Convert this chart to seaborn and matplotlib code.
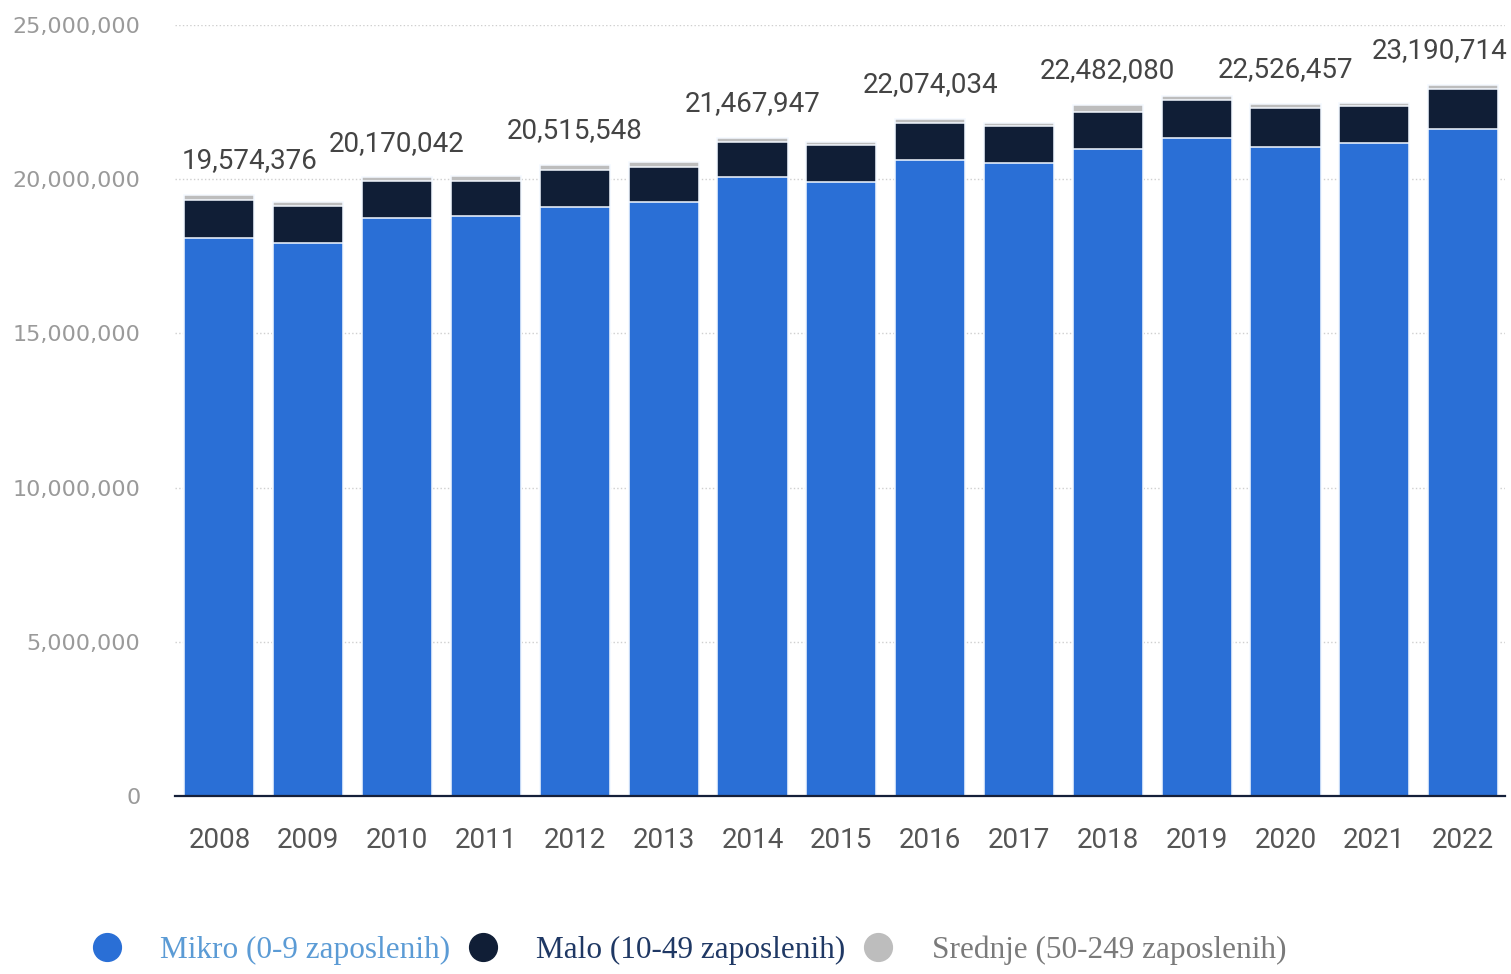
import matplotlib
matplotlib.use("Agg")
import matplotlib.pyplot as plt
from matplotlib.lines import Line2D
from matplotlib.ticker import FuncFormatter
import numpy as np
import pandas as pd
import seaborn as sns

years = ["2008", "2009", "2010", "2011", "2012", "2013", "2014", "2015",
         "2016", "2017", "2018", "2019", "2020", "2021", "2022"]
# millions
mikro = [18.09, 17.93, 18.74, 18.81, 19.10, 19.26, 20.07, 19.91,
         20.62, 20.53, 20.98, 21.34, 21.04, 21.17, 21.63]
malo = [1.24, 1.20, 1.20, 1.13, 1.20, 1.14, 1.14, 1.20,
        1.20, 1.19, 1.20, 1.23, 1.27, 1.20, 1.29]
srednje = [0.16, 0.13, 0.12, 0.18, 0.15, 0.15, 0.13, 0.11,
           0.13, 0.11, 0.22, 0.12, 0.12, 0.11, 0.15]
total_labels = {"2008": 19574376, "2010": 20170042, "2012": 20515548,
                "2014": 21467947, "2016": 22074034, "2018": 22482080,
                "2020": 22526457, "2022": 23190714}

df = pd.DataFrame({"year": years,
                   "mikro": np.array(mikro) * 1e6,
                   "malo": np.array(malo) * 1e6,
                   "srednje": np.array(srednje) * 1e6})
df["c_malo"] = df["mikro"] + df["malo"]
df["c_total"] = df["c_malo"] + df["srednje"]

c_mikro = "#2a6fd6"
c_malo = "#101e36"
c_srednje = "#bdbdbd"

sns.set_style("white")
plt.rcParams["font.family"] = ["DejaVu Sans"]

fig = plt.figure(figsize=(15.11, 9.74), dpi=100)
ax = fig.add_axes([0.1158, 0.1828, 0.8802, 0.7915])

for col, colr in [("c_total", c_srednje), ("c_malo", c_malo), ("mikro", c_mikro)]:
    sns.barplot(data=df, x="year", y=col, color=colr, width=0.79,
                edgecolor="#f4f9ff", linewidth=1.1, ax=ax, saturation=1)

ax.set_ylim(0, 25e6)
ax.set_xlim(-0.5, 14.47)
ax.set_xlabel("")
ax.set_ylabel("")
ax.set_yticks(np.arange(0, 25e6 + 1, 5e6))
ax.yaxis.set_major_formatter(FuncFormatter(lambda v, p: f"{int(v):,}"))
ax.grid(axis="y", linestyle=":", color="#cfcfcf", linewidth=1)
ax.set_axisbelow(True)
for s in ["top", "right", "left"]:
    ax.spines[s].set_visible(False)
ax.spines["bottom"].set_color("#15203a")
ax.spines["bottom"].set_linewidth(1.6)

ax.tick_params(axis="y", length=0, pad=25, labelsize=16, labelcolor="#9a9a9a")
ax.tick_params(axis="x", length=0, pad=22, labelcolor="#555555")
for t in ax.get_xticklabels():
    t.set_fontfamily(["Roboto", "DejaVu Sans"])
    t.set_fontsize(20)

for i, y in enumerate(years):
    if y not in total_labels:
        continue
    val = total_labels[y]
    ha, xpos = "center", i
    if i == 0:
        ha, xpos = "left", i - 0.43
    elif i == len(years) - 1:
        ha, xpos = "right", i + 0.5
    ax.annotate(f"{val:,}", xy=(xpos, df["c_total"][i]), xytext=(0, 15),
                textcoords="offset points", ha=ha, va="bottom",
                fontsize=20, color="#444444",
                family=["Roboto", "DejaVu Sans"],
                annotation_clip=False)

handles = [Line2D([], [], marker="o", linestyle="", markersize=20, color=c)
           for c in [c_mikro, c_malo, c_srednje]]
names = ["Mikro (0-9 zaposlenih)", "Malo (10-49 zaposlenih)",
         "Srednje (50-249 zaposlenih)"]
leg = fig.legend(handles, names, loc="center left", bbox_to_anchor=(0.042, 0.0246),
                 ncol=3, frameon=False, handlelength=1.0, handletextpad=1.2,
                 columnspacing=0.55, borderpad=0.4,
                 prop={"family": ["Liberation Serif", "DejaVu Serif"], "size": 22.5})
for t, c in zip(leg.get_texts(), ["#5b9bd5", "#1f3864", "#7a7a7a"]):
    t.set_color(c)

fig.savefig("out.png", dpi=100)
